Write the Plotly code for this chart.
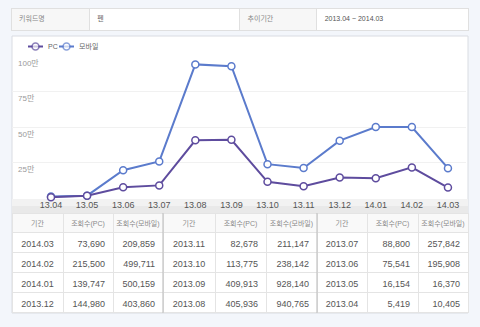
import plotly.graph_objects as go

# ---------------- data ----------------
periods = ["2013.04", "2013.05", "2013.06", "2013.07", "2013.08", "2013.09",
           "2013.10", "2013.11", "2013.12", "2014.01", "2014.02", "2014.03"]
pc_views = [5419, 16154, 75541, 88800, 405936, 409913,
            113775, 82678, 144980, 139747, 215500, 73690]
mobile_views = [10405, 16370, 195908, 257842, 940765, 928140,
                238142, 211147, 403860, 500159, 499711, 209859]
y_ticks = [250000, 500000, 750000, 1000000]
header_labels = ["키워드명", "펜", "추이기간", "2013.04 ~ 2014.03"]
table_headers = ["기간", "조회수(PC)", "조회수(모바일)"]
series_names = ["PC", "모바일"]

W, H = 480, 327
def px(x): return x / W
def py(y): return 1 - y / H

PC_COLOR = "#5e4c9e"
MO_COLOR = "#5b7bcc"
FONT = "Liberation Sans, Noto Sans CJK KR, sans-serif"

x_labels = [p[2:] for p in periods]

fig = go.Figure()

# ---- line chart ----
fig.add_trace(go.Scatter(
    x=x_labels, y=mobile_views, mode="lines+markers", name=series_names[1],
    line=dict(color=MO_COLOR, width=2),
    marker=dict(symbol="circle", size=7, color="white", line=dict(color=MO_COLOR, width=1.5)),
    cliponaxis=False, showlegend=False, hoverinfo="skip"))
fig.add_trace(go.Scatter(
    x=x_labels, y=pc_views, mode="lines+markers", name=series_names[0],
    line=dict(color=PC_COLOR, width=2),
    marker=dict(symbol="circle", size=7, color="white", line=dict(color=PC_COLOR, width=1.5)),
    cliponaxis=False, showlegend=False, hoverinfo="skip"))

# ---- custom legend on a pixel overlay axis ----
leg = [(series_names[0], PC_COLOR, 28, 43), (series_names[1], MO_COLOR, 59, 74)]
for name, col, x0, x1 in leg:
    fig.add_trace(go.Scatter(
        x=[x0, (x0 + x1) / 2, x1], y=[46.5, 46.5, 46.5], mode="lines+markers",
        line=dict(color=col, width=2),
        marker=dict(size=[0, 7, 0], color="white", line=dict(color=col, width=1.5)),
        xaxis="x2", yaxis="y2", showlegend=False, hoverinfo="skip", cliponaxis=False))
    fig.add_annotation(x=x1 + 3, y=46.5, xref="x2", yref="y2", text=name,
                       showarrow=False, xanchor="left", yanchor="middle",
                       font=dict(size=7, color="#666", family=FONT))

# ---- tables ----
top_fill = ["#f7f7f7", "white", "#f7f7f7", "white"]
top_font_col = ["#888", "#666", "#888", "#555"]
fig.add_trace(go.Table(
    domain=dict(x=[px(11), px(468)], y=[py(40), py(8)]),
    columnwidth=[78, 150, 77, 151],
    header=dict(values=header_labels, height=22, align="left",
                fill_color=top_fill, line_color="#e0e0e0",
                font=dict(size=7, color=top_font_col, family=FONT)),
    cells=dict(values=[[], [], [], []], height=1, line_color="#e0e0e0", fill_color="white")))

rev = list(range(len(periods)))[::-1]
groups = [rev[0:4], rev[4:8], rev[8:12]]
g_edges = [(12, 163), (163, 317), (317, 468)]
g_widths = [[51, 50, 50], [52, 51, 51], [50, 51, 50]]
for idx, (x0, x1), cw in zip(groups, g_edges, g_widths):
    fig.add_trace(go.Table(
        domain=dict(x=[px(x0), px(x1)], y=[py(320), py(213)]),
        columnwidth=cw,
        header=dict(values=table_headers, height=19, align="center",
                    fill_color="#f9f9f9", line_color="#e4e4e4",
                    font=dict(size=7, color="#8a8a8a", family=FONT)),
        cells=dict(values=[[periods[i] for i in idx],
                           [f"{pc_views[i]:,}" for i in idx],
                           [f"{mobile_views[i]:,}" for i in idx]],
                   height=20, align=["center", "right", "right"],
                   fill_color="white", line_color="#e4e4e4",
                   font=dict(size=9, color="#555", family=FONT))))

shapes = [
    # chart container
    dict(type="rect", xref="paper", yref="paper", x0=px(12), x1=px(468), y0=py(313), y1=py(36),
         fillcolor="white", line=dict(color="#d9dce2", width=1), layer="below"),
    # x label strip
    dict(type="rect", xref="paper", yref="paper", x0=px(12), x1=px(468), y0=py(213), y1=py(206),
         fillcolor="#e9e9e9", line=dict(width=0), layer="below"),
    dict(type="rect", xref="paper", yref="paper", x0=px(12), x1=px(468), y0=py(206), y1=py(199),
         fillcolor="#f2f2f2", line=dict(width=0), layer="below"),
    # group separators
    dict(type="line", xref="paper", yref="paper", x0=px(163), x1=px(163), y0=py(313), y1=py(213),
         line=dict(color="#c4c4c4", width=1.2), layer="above"),
    dict(type="line", xref="paper", yref="paper", x0=px(317), x1=px(317), y0=py(313), y1=py(213),
         line=dict(color="#c4c4c4", width=1.2), layer="above"),
]

for v in y_ticks:
    fig.add_annotation(x=px(16), xref="paper", y=v, yref="y", text=f"{v // 10000}만",
                       showarrow=False, xanchor="left", yanchor="top", yshift=-1,
                       font=dict(size=8, color="#9a9a9a", family=FONT))

fig.update_layout(
    width=W, height=H, margin=dict(l=0, r=0, t=0, b=0),
    paper_bgcolor="#f3f6fb", plot_bgcolor="rgba(0,0,0,0)",
    font=dict(family=FONT),
    shapes=shapes, showlegend=False,
    xaxis=dict(domain=[px(12), px(466)], range=[-1.08, 11.5], type="category",
               showgrid=False, zeroline=False, showline=False, ticks="",
               tickfont=dict(size=9, color="#555", family=FONT), fixedrange=True),
    yaxis=dict(domain=[py(198), py(56)], range=[0, 1000000], tickvals=y_ticks,
               showticklabels=False, showgrid=True, gridcolor="#f1f1f1", gridwidth=1,
               zeroline=False, showline=False, fixedrange=True),
    xaxis2=dict(domain=[0, 1], range=[0, W], visible=False, anchor="y2", fixedrange=True),
    yaxis2=dict(domain=[0, 1], range=[H, 0], visible=False, anchor="x2", fixedrange=True),
)

fig.write_html("out.html")
